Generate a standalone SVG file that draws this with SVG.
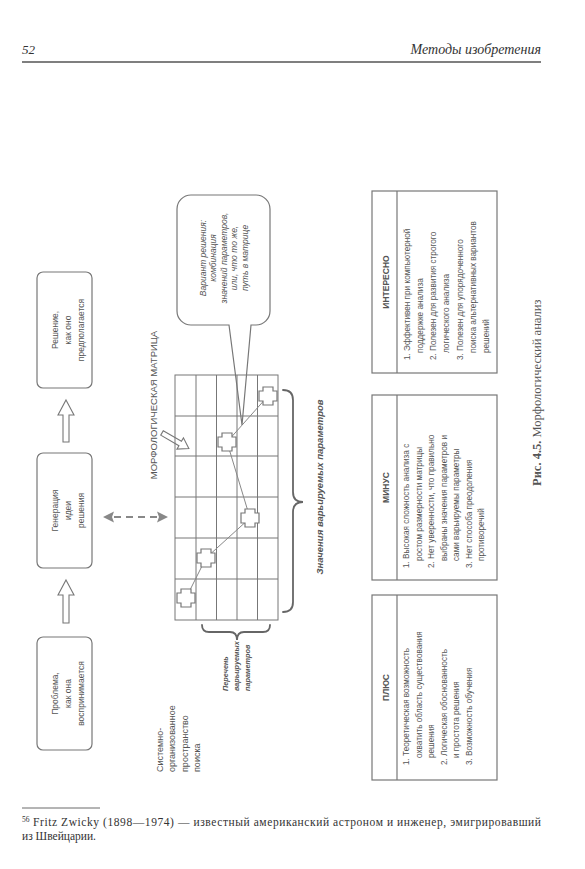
<svg xmlns="http://www.w3.org/2000/svg" xmlns:xlink="http://www.w3.org/1999/xlink" width="585" height="869" viewBox="0 0 585 869">
<style>
.sans{font-family:"Liberation Sans",Arial,sans-serif;fill:#555}
.serif{font-family:"Liberation Serif","Times New Roman",serif;fill:#333}
.t{font-size:8.5px}
.it{font-size:8.2px}
.b{font-weight:bold}
.i{font-style:italic}
.box{fill:#fff;stroke:#777;stroke-width:1.2}
.grid{fill:none;stroke:#777;stroke-width:1}
.gray{fill:none;stroke:#888;stroke-width:1}
.hollow{fill:#fff;stroke:#777;stroke-width:1.1;stroke-linejoin:miter}
.brace{fill:none;stroke:#666;stroke-width:1.8;stroke-linecap:round}
.cross{fill:#fff;stroke:#777;stroke-width:1.2}
</style>
<defs>
<path id="cross" d="M-5,-9 h10 v4 h4 v10 h-4 v4 h-10 v-4 h-4 v-10 h4 z"/>
</defs>
<rect width="585" height="869" fill="#fff"/>

<g id="header">
<text class="serif i" x="22" y="54" font-size="13">52</text>
<text class="serif i" x="541" y="54" font-size="14" text-anchor="end">Методы изобретения</text>
<line x1="22" y1="62" x2="541" y2="62" stroke="#555" stroke-width="1.4"/>
</g>

<g id="node-problem">
<rect class="box" x="37" y="637" width="55" height="113" rx="6"/>
<text class="sans t" transform="translate(57.5,693.5) rotate(-90)" text-anchor="middle"><tspan x="0" y="0">Проблема,</tspan><tspan x="0" y="13">как она</tspan><tspan x="0" y="26">воспринимается</tspan></text>
</g>

<g id="node-generation">
<rect class="box" x="37" y="453" width="55" height="115" rx="6"/>
<text class="sans t" transform="translate(57.5,510.5) rotate(-90)" text-anchor="middle"><tspan x="0" y="0">Генерация</tspan><tspan x="0" y="13">идеи</tspan><tspan x="0" y="26">решения</tspan></text>
</g>

<g id="node-solution">
<rect class="box" x="37" y="272" width="55" height="116" rx="6"/>
<text class="sans t" transform="translate(57.5,330) rotate(-90)" text-anchor="middle"><tspan x="0" y="0">Решение,</tspan><tspan x="0" y="13">как оно</tspan><tspan x="0" y="26">предполагается</tspan></text>
</g>

<g id="connectors">
<polygon class="hollow" points="66,580 74,595 69,595 69,623 63,623 63,595 58,595"/>
<polygon class="hollow" points="66,400 74,415 69,415 69,442 63,442 63,415 58,415"/>
<line x1="114" y1="517" x2="157" y2="517" stroke="#888" stroke-width="2" stroke-dasharray="7 5"/>
<polygon points="103,517 114,511.5 112,517 114,522.5" fill="#888"/>
<polygon points="168,517 157,511.5 159,517 157,522.5" fill="#888"/>
<polygon class="hollow" transform="translate(162,433) rotate(30)" points="0,-2.5 21,-2.5 21,-6.5 31,0 21,6.5 21,2.5 0,2.5"/>
</g>

<g id="label-matrix">
<text class="sans" font-size="9.5" transform="translate(156.5,405) rotate(-90)" text-anchor="middle">МОРФОЛОГИЧЕСКАЯ МАТРИЦА</text>
</g>

<g id="node-matrix">
<rect class="grid" x="175" y="375" width="103" height="245"/>
<path class="grid" d="M196,375V620M216.5,375V620M237,375V620M257.5,375V620M175,416H278M175,456H278M175,497H278M175,538H278M175,579H278"/>
<polyline class="gray" points="186,598 206,558 250,518 227,442 268,396"/>
<use href="#cross" x="186" y="598" class="cross"/>
<use href="#cross" x="206" y="558" class="cross"/>
<use href="#cross" x="250" y="518" class="cross"/>
<use href="#cross" x="227" y="442" class="cross"/>
<use href="#cross" x="268" y="396" class="cross"/>
</g>

<g id="node-callout">
<path fill="none" stroke="#777" stroke-width="1.2" d="M191,195 H256 A14,14 0 0 1 270,209 V311 A14,14 0 0 1 256,325 H251 L242,425 L229,325 H191 A14,14 0 0 1 177,311 V209 A14,14 0 0 1 191,195 Z"/>
<text class="sans t i" transform="translate(205.5,258) rotate(-90)" text-anchor="middle"><tspan x="0" y="0">Вариант решения:</tspan><tspan x="0" y="10.5">комбинация</tspan><tspan x="0" y="21">значений параметров,</tspan><tspan x="0" y="31.5">или, что то же,</tspan><tspan x="0" y="42">путь в матрице</tspan></text>
</g>

<g id="brace-values">
<path class="brace" d="M283,390 Q293,390 293,400 V492 Q293,502 303,502 Q293,502 293,512 V602 Q293,612 283,612"/>
<text class="sans b i" font-size="9.5" transform="translate(323,487) rotate(-90)" text-anchor="middle">Значения варьируемых параметров</text>
</g>

<g id="brace-params">
<path class="brace" d="M202,625 Q202,632 209,632 H230 Q237,632 237,640 Q237,632 244,632 H263 Q270,632 270,625"/>
<text class="sans b i" font-size="7.3" transform="translate(228,691) rotate(-90)"><tspan x="0" y="0">Перечень</tspan><tspan x="0" y="11">варьируемых</tspan><tspan x="0" y="22">параметров</tspan></text>
</g>

<g id="label-space">
<text class="sans" font-size="9" transform="translate(163,772) rotate(-90)"><tspan x="0" y="0">Системно-</tspan><tspan x="0" y="12.4">организованное</tspan><tspan x="0" y="24.8">пространство</tspan><tspan x="0" y="37.2">поиска</tspan></text>
</g>

<g id="table-interesting">
<rect class="box" x="372" y="191" width="125" height="182"/>
<line x1="397" y1="191" x2="397" y2="373" stroke="#777" stroke-width="1.2"/>
<text class="sans t b" transform="translate(388.5,282) rotate(-90)" text-anchor="middle">ИНТЕРЕСНО</text>
<text class="sans it" transform="translate(409.5,360) rotate(-90)"><tspan x="0" y="0">1. Эффективен при компьютерной</tspan><tspan x="7" y="13.3">поддержке анализа</tspan><tspan x="0" y="26.6">2. Полезен для развития строгого</tspan><tspan x="7" y="39.9">логического анализа</tspan><tspan x="0" y="53.2">3. Полезен для упорядоченного</tspan><tspan x="7" y="66.5">поиска альтернативных вариантов</tspan><tspan x="7" y="79.8">решений</tspan></text>
</g>

<g id="table-minus">
<rect class="box" x="372" y="395" width="125" height="185"/>
<line x1="397" y1="395" x2="397" y2="580" stroke="#777" stroke-width="1.2"/>
<text class="sans t b" transform="translate(388.5,487.5) rotate(-90)" text-anchor="middle">МИНУС</text>
<text class="sans it" transform="translate(409,568) rotate(-90)"><tspan x="0" y="0">1. Высокая сложность анализа с</tspan><tspan x="7" y="12.5">ростом размерности матрицы</tspan><tspan x="0" y="25">2. Нет уверенности, что правильно</tspan><tspan x="7" y="37.5">выбраны значения параметров и</tspan><tspan x="7" y="50">сами варьируемы параметры</tspan><tspan x="0" y="62.5">3. Нет способа преодоления</tspan><tspan x="7" y="75">противоречий</tspan></text>
</g>

<g id="table-plus">
<rect class="box" x="372" y="595" width="125" height="185"/>
<line x1="397" y1="595" x2="397" y2="780" stroke="#777" stroke-width="1.2"/>
<text class="sans t b" transform="translate(388.5,687.5) rotate(-90)" text-anchor="middle">ПЛЮС</text>
<text class="sans it" transform="translate(409,765) rotate(-90)"><tspan x="0" y="0">1. Теоретическая возможность</tspan><tspan x="7" y="12.5">охватить область существования</tspan><tspan x="7" y="25">решения</tspan><tspan x="0" y="37.5">2. Логическая обоснованность</tspan><tspan x="7" y="50">и простота решения</tspan><tspan x="0" y="62.5">3. Возможность обучения</tspan></text>
</g>

<g id="caption">
<text class="serif" font-size="12.5" style="fill:#555" transform="translate(541,486) rotate(-90)"><tspan font-weight="bold">Рис. 4.5.</tspan> Морфологический анализ</text>
</g>

<g id="footnote">
<line x1="22" y1="808" x2="100" y2="808" stroke="#444" stroke-width="0.8"/>
<text class="serif" x="22" y="822" font-size="7.5">56</text>
<text class="serif" x="33" y="826" font-size="11.5" textLength="508" lengthAdjust="spacing">Fritz Zwicky (1898—1974) — известный американский астроном и инженер, эмигрировавший</text>
<text class="serif" x="22" y="840" font-size="11.5">из Швейцарии.</text>
</g>
</svg>
